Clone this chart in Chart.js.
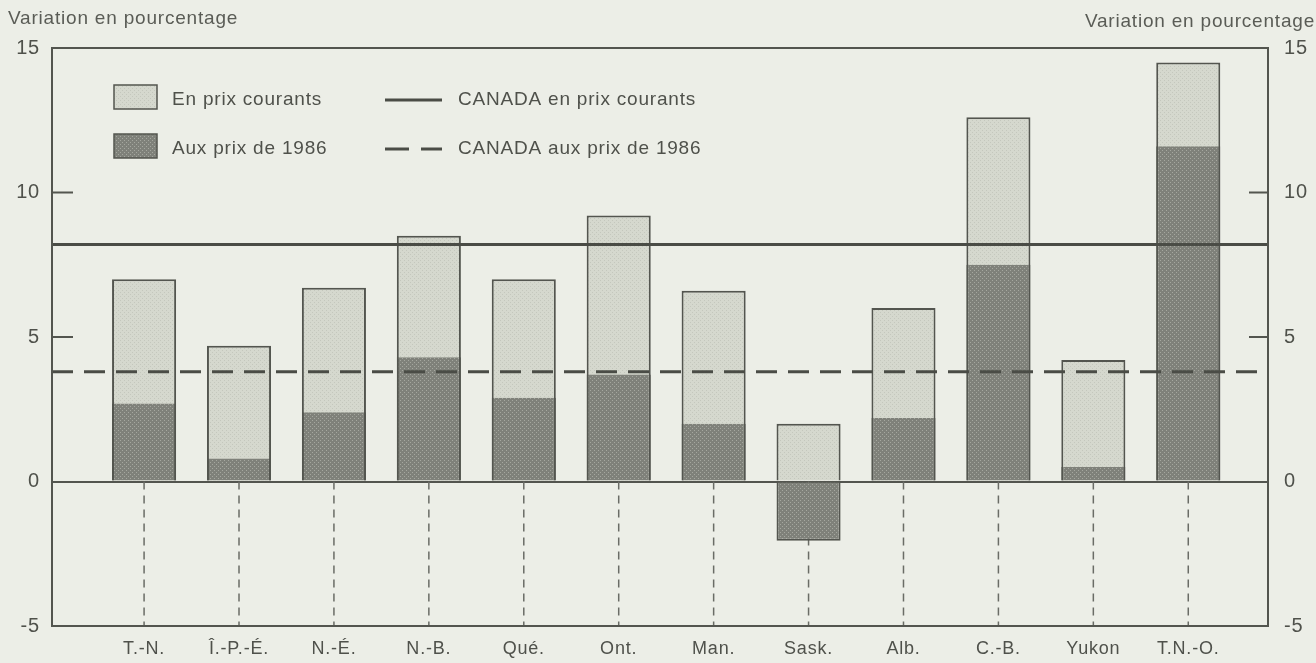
<!DOCTYPE html>
<html>
<head>
<meta charset="utf-8">
<script src="https://cdn.jsdelivr.net/npm/chart.js@4.4.1/dist/chart.umd.min.js"></script>
<style>
  html, body { margin: 0; padding: 0; background: #eceee7; }
  #wrap { width: 1316px; height: 663px; position: relative; }
</style>
</head>
<body>
<div id="wrap"><canvas id="provChart" width="1316" height="663"></canvas></div>
<script>
const provinces = ["T.-N.", "Î.-P.-É.", "N.-É.", "N.-B.", "Qué.", "Ont.", "Man.", "Sask.", "Alb.", "C.-B.", "Yukon", "T.N.-O."];
const prixCourants = [7.0, 4.7, 6.7, 8.5, 7.0, 9.2, 6.6, 2.0, 6.0, 12.6, 4.2, 14.5];
const prix1986 = [2.7, 0.8, 2.4, 4.3, 2.9, 3.7, 2.0, -2.05, 2.2, 7.5, 0.5, 11.6];
const canadaCourants = 8.2;
const canada1986 = 3.8;
const yTicks = [-5, 0, 5, 10, 15];
const seriesLabels = ["En prix courants", "Aux prix de 1986", "CANADA en prix courants", "CANADA aux prix de 1986"];
const axisTitle = "Variation en pourcentage";

// x range leaves a little more room left of the first bar than right of the last
const xMin = -0.97;
const xMax = 11.84;

const textColor = "#4f514b";
const frameColor = "#53554f";
const fontFamily = "'Liberation Sans', Arial, sans-serif";

const canvas = document.getElementById("provChart");
const g2d = canvas.getContext("2d");

function makePattern(base, dot, step) {
  const c = document.createElement("canvas");
  c.width = step;
  c.height = step;
  const g = c.getContext("2d");
  g.fillStyle = base;
  g.fillRect(0, 0, step, step);
  g.fillStyle = dot;
  g.fillRect(0, 0, 1, 1);
  g.fillRect(step / 2, step / 2, 1, 1);
  return g2d.createPattern(c, "repeat");
}

const lightFill = makePattern("#d5d8ce", "#c4c7bd", 4);
const darkFill = makePattern("#7f817a", "#a5a79f", 4);

const toPoints = (arr) => arr.map((v, i) => ({ x: i, y: v }));

const spacingPlugin = {
  id: "letterSpacing",
  beforeDraw(chart) {
    chart.ctx.letterSpacing = "0.8px";
  },
};

const framePlugin = {
  id: "frameAndGuides",
  beforeDatasetsDraw(chart) {
    const { ctx, chartArea, scales } = chart;
    const y0 = scales.y.getPixelForValue(0);
    ctx.save();
    ctx.strokeStyle = "#6a6c66";
    ctx.lineWidth = 1.5;
    ctx.setLineDash([8, 6]);
    provinces.forEach((p, i) => {
      const x = scales.x.getPixelForValue(i);
      ctx.beginPath();
      ctx.moveTo(x, y0);
      ctx.lineTo(x, chartArea.bottom);
      ctx.stroke();
    });
    ctx.restore();
  },
  afterDatasetsDraw(chart) {
    const { ctx, chartArea, scales } = chart;
    ctx.save();
    ctx.strokeStyle = frameColor;
    ctx.lineWidth = 2;
    ctx.strokeRect(chartArea.left, chartArea.top, chartArea.right - chartArea.left, chartArea.bottom - chartArea.top);
    // short inward ticks on both sides
    [5, 10].forEach((v) => {
      const y = scales.y.getPixelForValue(v);
      ctx.beginPath();
      ctx.moveTo(chartArea.left, y);
      ctx.lineTo(chartArea.left + 21, y);
      ctx.moveTo(chartArea.right, y);
      ctx.lineTo(chartArea.right - 19, y);
      ctx.stroke();
    });
    ctx.restore();
  },
};

const legendPlugin = {
  id: "insideLegend",
  afterDatasetsDraw(chart) {
    const { ctx, chartArea } = chart;
    const left = chartArea.left;
    const rows = [chartArea.top + 52, chartArea.top + 101];
    ctx.save();
    ctx.font = "19px " + fontFamily;
    ctx.fillStyle = textColor;
    ctx.textBaseline = "middle";
    [lightFill, darkFill].forEach((fill, i) => {
      const y = rows[i];
      ctx.fillStyle = fill;
      ctx.fillRect(left + 62, y - 15, 43, 24);
      ctx.strokeStyle = frameColor;
      ctx.lineWidth = 1.5;
      ctx.strokeRect(left + 62, y - 15, 43, 24);
      ctx.fillStyle = textColor;
      ctx.fillText(seriesLabels[i], left + 120, y);
    });
    [[], [24, 12]].forEach((dash, i) => {
      const y = rows[i];
      ctx.strokeStyle = "#4a4c46";
      ctx.lineWidth = 3;
      ctx.setLineDash(dash);
      ctx.beginPath();
      ctx.moveTo(left + 333, y);
      ctx.lineTo(left + 390, y);
      ctx.stroke();
      ctx.setLineDash([]);
      ctx.fillStyle = textColor;
      ctx.fillText(seriesLabels[i + 2], left + 406, y);
    });
    ctx.restore();
  },
};

const titlePlugin = {
  id: "sideTitles",
  afterDraw(chart) {
    const { ctx, width } = chart;
    ctx.save();
    ctx.font = "19px " + fontFamily;
    ctx.fillStyle = "#5a5c56";
    ctx.textBaseline = "middle";
    ctx.textAlign = "left";
    ctx.fillText(axisTitle, 8, 19);
    ctx.textAlign = "right";
    ctx.fillText(axisTitle, width - 1, 22);
    ctx.restore();
  },
};

const tickFont = { family: fontFamily, size: 20 };

new Chart(canvas, {
  type: "bar",
  data: {
    datasets: [
      {
        type: "line",
        label: seriesLabels[2],
        data: [{ x: xMin, y: canadaCourants }, { x: xMax, y: canadaCourants }],
        borderColor: "#4a4c46",
        borderWidth: 3,
        pointRadius: 0,
        order: 0,
      },
      {
        type: "line",
        label: seriesLabels[3],
        data: [{ x: xMin, y: canada1986 }, { x: xMax, y: canada1986 }],
        borderColor: "#4a4c46",
        borderWidth: 3,
        borderDash: [21, 11],
        pointRadius: 0,
        order: 0,
      },
      {
        label: seriesLabels[1],
        data: toPoints(prix1986),
        backgroundColor: darkFill,
        borderColor: frameColor,
        borderWidth: { left: 2, right: 2, top: 0, bottom: 2 },
        borderSkipped: "start",
        grouped: false,
        categoryPercentage: 1,
        barPercentage: 0.675,
        order: 1,
      },
      {
        label: seriesLabels[0],
        data: toPoints(prixCourants),
        backgroundColor: lightFill,
        borderColor: frameColor,
        borderWidth: 2,
        borderSkipped: "start",
        grouped: false,
        categoryPercentage: 1,
        barPercentage: 0.675,
        order: 2,
      },
    ],
  },
  options: {
    responsive: false,
    animation: false,
    layout: { padding: { top: 48, left: 0, right: 0, bottom: 0 } },
    plugins: {
      legend: { display: false },
      tooltip: { enabled: false },
    },
    scales: {
      x: {
        type: "linear",
        offset: false,
        min: xMin,
        max: xMax,
        afterBuildTicks: (scale) => {
          scale.ticks = provinces.map((p, i) => ({ value: i }));
        },
        afterFit: (scale) => {
          scale.height = 37;
        },
        ticks: {
          autoSkip: false,
          maxRotation: 0,
          padding: 4,
          color: textColor,
          font: { family: fontFamily, size: 18 },
          callback: (value) => provinces[value],
        },
        grid: { display: false },
        border: { display: false },
      },
      y: {
        position: "left",
        min: -5,
        max: 15,
        afterBuildTicks: (scale) => {
          scale.ticks = yTicks.map((v) => ({ value: v }));
        },
        afterFit: (scale) => {
          scale.width = 52;
        },
        ticks: { padding: 12, color: textColor, font: tickFont },
        grid: {
          drawTicks: false,
          lineWidth: 2,
          color: (c) => (c.tick && c.tick.value === 0 ? frameColor : "rgba(0,0,0,0)"),
        },
        border: { display: false },
      },
      y2: {
        position: "right",
        min: -5,
        max: 15,
        afterBuildTicks: (scale) => {
          scale.ticks = yTicks.map((v) => ({ value: v }));
        },
        afterFit: (scale) => {
          scale.width = 48;
        },
        ticks: { padding: 16, color: textColor, font: tickFont },
        grid: { display: false, drawTicks: false },
        border: { display: false },
      },
    },
  },
  plugins: [spacingPlugin, framePlugin, legendPlugin, titlePlugin],
});
</script>
</body>
</html>
